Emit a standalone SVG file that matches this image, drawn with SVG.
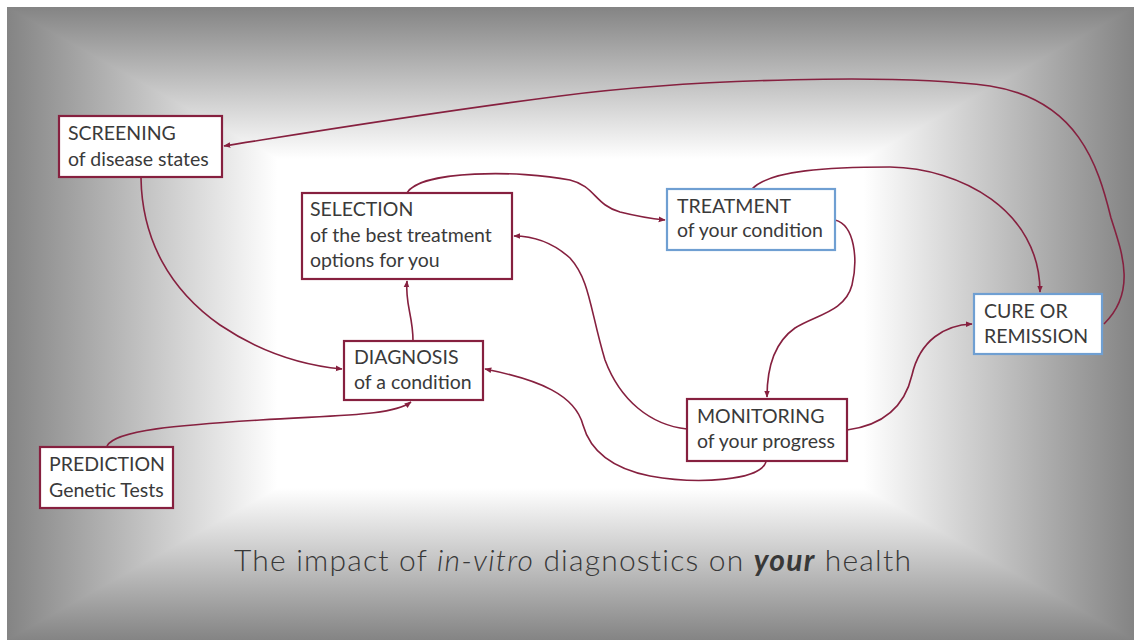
<svg xmlns="http://www.w3.org/2000/svg" width="1134" height="640" viewBox="0 0 1134 640">
  <defs>
    <!-- rectangular "path" gradient: left/right halves underneath, top/bottom wedges on top -->
    <linearGradient id="gL" gradientUnits="userSpaceOnUse" x1="7" y1="0" x2="570.5" y2="0">
      <stop offset="0" stop-color="#848484"/>
      <stop offset="0.48" stop-color="#ffffff"/>
      <stop offset="1" stop-color="#ffffff"/>
    </linearGradient>
    <linearGradient id="gR" gradientUnits="userSpaceOnUse" x1="1134" y1="0" x2="570.5" y2="0">
      <stop offset="0" stop-color="#848484"/>
      <stop offset="0.48" stop-color="#ffffff"/>
      <stop offset="1" stop-color="#ffffff"/>
    </linearGradient>
    <linearGradient id="gT" gradientUnits="userSpaceOnUse" x1="0" y1="7" x2="0" y2="323.5">
      <stop offset="0" stop-color="#848484"/>
      <stop offset="0.48" stop-color="#ffffff"/>
      <stop offset="1" stop-color="#ffffff"/>
    </linearGradient>
    <linearGradient id="gB" gradientUnits="userSpaceOnUse" x1="0" y1="640" x2="0" y2="323.5">
      <stop offset="0" stop-color="#848484"/>
      <stop offset="0.48" stop-color="#ffffff"/>
      <stop offset="1" stop-color="#ffffff"/>
    </linearGradient>
    <marker id="arrow" viewBox="0 0 10 10" refX="9" refY="5" markerUnits="userSpaceOnUse" markerWidth="7" markerHeight="7" orient="auto">
      <path d="M0,1 L10,5 L0,9 Z" fill="#86203f"/>
    </marker>
  </defs>
  <style>
    .box { fill: #ffffff; stroke-width: 2.2; }
    .maroon { stroke: #86203f; }
    .blue { stroke: #6f9fd2; }
    .label { font-family: Lato, "Liberation Sans", sans-serif; font-size: 19.5px; fill: #3a3a3a; }
    .link { fill: none; stroke: #86203f; stroke-width: 1.6; marker-end: url(#arrow); }
    .title { font-family: Lato, "Liberation Sans", sans-serif; font-weight: 300; font-size: 30px; letter-spacing: 1.2px; fill: #383838; }
  </style>

  <!-- backdrop -->
  <rect x="0" y="0" width="1134" height="640" fill="#ffffff"/>
  <rect x="7" y="7" width="564" height="633" fill="url(#gL)"/>
  <rect x="570" y="7" width="564" height="633" fill="url(#gR)"/>
  <polygon points="7,7 1134,7 570.5,323.5" fill="url(#gT)"/>
  <polygon points="7,640 1134,640 570.5,323.5" fill="url(#gB)"/>

  <!-- connectors -->
  <g id="connectors">
    <path class="link" d="M1104,324 C1137,292 1122,252 1111,218 C1098,165 1078,100 990,86 C900,74 700,78 560,96 C420,114 300,134 224,146"/>
    <path class="link" d="M141,178 C142,240 170,290 220,325 C260,352 300,365 342,369"/>
    <path class="link" d="M107,446 C115,430 180,425 260,420 C340,415 392,416 411,402"/>
    <path class="link" d="M413,341 C413,315 405,305 407,281"/>
    <path class="link" d="M407,193 C420,170 520,170 570,180 C595,186 595,205 620,212 C640,217 655,219 665,220"/>
    <path class="link" d="M752,189 C770,170 830,167 890,167 C960,168 1040,210 1040,292"/>
    <path class="link" d="M835,220 C855,225 858,260 852,285 C845,312 815,315 795,328 C775,342 767,365 767,397"/>
    <path class="link" d="M687,429 C650,425 620,400 605,360 C590,310 590,280 570,258 C550,240 530,236 514,236"/>
    <path class="link" d="M766,462 C760,480 700,485 650,476 C610,468 590,450 583,425 C575,395 540,380 485,369"/>
    <path class="link" d="M847,430 C885,425 905,405 912,375 C920,340 945,325 972,324"/>
  </g>

  <!-- nodes -->
  <g id="screening">
    <rect class="box maroon" x="59" y="116" width="163" height="61"/>
    <text class="label" x="68" y="140">SCREENING</text>
    <text class="label" x="68" y="166">of disease states</text>
  </g>
  <g id="selection">
    <rect class="box maroon" x="302" y="193" width="210" height="86"/>
    <text class="label" x="310" y="216">SELECTION</text>
    <text class="label" x="310" y="242">of the best treatment</text>
    <text class="label" x="310" y="267">options for you</text>
  </g>
  <g id="diagnosis">
    <rect class="box maroon" x="344" y="341" width="139" height="59"/>
    <text class="label" x="354" y="364">DIAGNOSIS</text>
    <text class="label" x="354" y="389">of a condition</text>
  </g>
  <g id="treatment">
    <rect class="box blue" x="667" y="189" width="168" height="61"/>
    <text class="label" x="677" y="213">TREATMENT</text>
    <text class="label" x="677" y="237">of your condition</text>
  </g>
  <g id="cure">
    <rect class="box blue" x="974" y="294" width="128" height="60"/>
    <text class="label" x="984" y="318">CURE OR</text>
    <text class="label" x="984" y="343">REMISSION</text>
  </g>
  <g id="monitoring">
    <rect class="box maroon" x="687" y="399" width="160" height="62"/>
    <text class="label" x="697" y="423">MONITORING</text>
    <text class="label" x="697" y="448">of your progress</text>
  </g>
  <g id="prediction">
    <rect class="box maroon" x="40" y="447" width="133" height="61"/>
    <text class="label" x="49" y="471">PREDICTION</text>
    <text class="label" x="49" y="497">Genetic Tests</text>
  </g>

  <!-- caption -->
  <text class="title" x="234" y="571">The impact of <tspan font-style="italic">in-vitro</tspan> diagnostics on <tspan font-style="italic" font-weight="700">your</tspan> health</text>
</svg>
